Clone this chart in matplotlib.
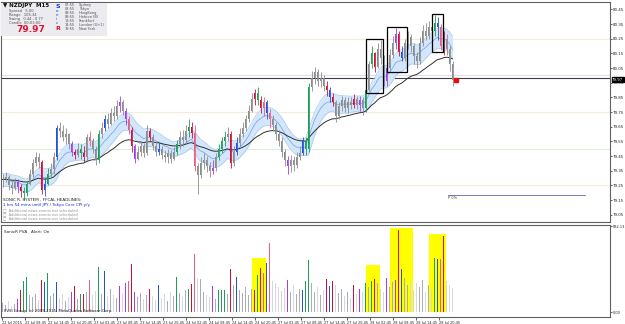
import numpy as np
import pandas as pd
import matplotlib
matplotlib.use("Agg")
import matplotlib.pyplot as plt
from matplotlib.patches import Rectangle
import matplotlib.transforms as mtrans

# ---------------- data ----------------
close = [79.29, 79.31, 79.25, 79.23, 79.27, 79.24, 79.21, 79.20, 79.26, 79.33,
         79.40, 79.44, 79.41, 79.22, 79.26, 79.33, 79.36, 79.44, 79.64, 79.62,
         79.58, 79.60, 79.53, 79.48, 79.46, 79.50, 79.47, 79.44, 79.58, 79.55,
         79.50, 79.42, 79.60, 79.64, 79.70, 79.67, 79.74, 79.72, 79.79, 79.82,
         79.76, 79.70, 79.63, 79.52, 79.43, 79.48, 79.52, 79.47, 79.62, 79.58,
         79.52, 79.48, 79.50, 79.46, 79.44, 79.47, 79.43, 79.48, 79.53, 79.58,
         79.56, 79.62, 79.65, 79.61, 79.38, 79.32, 79.40, 79.42, 79.38, 79.35,
         79.37, 79.44, 79.50, 79.55, 79.58, 79.60, 79.40, 79.48, 79.54, 79.60,
         79.64, 79.70, 79.76, 79.84, 79.88, 79.83, 79.78, 79.82, 79.74, 79.70,
         79.66, 79.60, 79.55, 79.48, 79.42, 79.38, 79.42, 79.39, 79.44, 79.47,
         79.55, 79.50, 79.92, 79.98, 80.02, 79.96, 79.98, 79.93, 79.90, 79.85,
         79.82, 79.72, 79.79, 79.83, 79.78, 79.82, 79.80, 79.84, 79.80, 79.83,
         79.78, 79.90, 80.08, 80.15, 80.06, 80.18, 80.12, 79.96, 80.05, 80.14,
         80.22, 80.28, 80.16, 80.12, 80.22, 80.26, 80.20, 80.13, 80.10, 80.22,
         80.30, 80.27, 80.33, 80.30, 80.36, 80.33, 80.20, 80.25, 80.18, 80.08,
         79.97]
high = [79.33, 79.34, 79.32, 79.28, 79.30, 79.29, 79.26, 79.24, 79.28, 79.36,
        79.43, 79.48, 79.47, 79.42, 79.30, 79.37, 79.40, 79.48, 79.66, 79.68,
        79.66, 79.64, 79.61, 79.55, 79.50, 79.54, 79.53, 79.52, 79.60, 79.62,
        79.57, 79.52, 79.63, 79.68, 79.73, 79.74, 79.78, 79.79, 79.83, 79.86,
        79.83, 79.78, 79.72, 79.65, 79.53, 79.52, 79.55, 79.54, 79.66, 79.64,
        79.60, 79.55, 79.54, 79.52, 79.49, 79.50, 79.49, 79.51, 79.56, 79.62,
        79.63, 79.66, 79.70, 79.68, 79.66, 79.40, 79.44, 79.47, 79.45, 79.41,
        79.42, 79.47, 79.53, 79.58, 79.62, 79.65, 79.62, 79.52, 79.58, 79.64,
        79.68, 79.73, 79.80, 79.88, 79.91, 79.92, 79.86, 79.85, 79.83, 79.77,
        79.73, 79.68, 79.63, 79.58, 79.50, 79.45, 79.46, 79.45, 79.48, 79.52,
        79.58, 79.58, 79.95, 80.03, 80.06, 80.04, 80.02, 80.00, 79.96, 79.92,
        79.88, 79.83, 79.82, 79.86, 79.85, 79.85, 79.85, 79.87, 79.86, 79.86,
        79.85, 79.93, 80.10, 80.20, 80.16, 80.22, 80.24, 80.14, 80.08, 80.18,
        80.27, 80.32, 80.30, 80.20, 80.25, 80.30, 80.28, 80.22, 80.16, 80.26,
        80.34, 80.36, 80.37, 80.38, 80.41, 80.40, 80.35, 80.30, 80.28, 80.20,
        80.10]
low = [79.24, 79.27, 79.22, 79.19, 79.22, 79.20, 79.17, 79.15, 79.18, 79.25,
       79.31, 79.38, 79.37, 79.19, 79.18, 79.25, 79.30, 79.33, 79.42, 79.58,
       79.55, 79.53, 79.50, 79.45, 79.43, 79.44, 79.43, 79.41, 79.42, 79.52,
       79.47, 79.39, 79.40, 79.57, 79.62, 79.64, 79.66, 79.69, 79.70, 79.75,
       79.73, 79.66, 79.60, 79.48, 79.40, 79.42, 79.45, 79.44, 79.46, 79.55,
       79.49, 79.45, 79.46, 79.43, 79.41, 79.40, 79.40, 79.42, 79.46, 79.50,
       79.52, 79.53, 79.58, 79.57, 79.35, 79.19, 79.30, 79.36, 79.34, 79.31,
       79.33, 79.35, 79.42, 79.47, 79.52, 79.55, 79.37, 79.38, 79.46, 79.52,
       79.58, 79.62, 79.68, 79.75, 79.80, 79.80, 79.74, 79.72, 79.70, 79.64,
       79.62, 79.56, 79.52, 79.44, 79.38, 79.33, 79.34, 79.35, 79.37, 79.42,
       79.46, 79.46, 79.48, 79.89, 79.94, 79.93, 79.92, 79.89, 79.86, 79.82,
       79.79, 79.68, 79.70, 79.76, 79.75, 79.74, 79.77, 79.78, 79.77, 79.76,
       79.73, 79.75, 79.89, 80.05, 80.02, 80.05, 80.08, 79.93, 79.93, 80.03,
       80.12, 80.18, 80.13, 80.10, 80.10, 80.18, 80.16, 80.08, 80.05, 80.08,
       80.20, 80.24, 80.25, 80.26, 80.27, 80.24, 80.17, 80.14, 80.14, 80.03,
       79.93]
volume = [90, 70, 110, 60, 85, 130, 214, 305, 345, 170,
          150, 180, 120, 314, 298, 383, 160, 190, 289, 140,
          180, 110, 150, 195, 257, 130, 182, 182, 200, 314,
          170, 210, 440, 180, 402, 160, 230, 170, 140, 251,
          190, 283, 305, 471, 200, 150, 190, 130, 170, 226,
          160, 120, 267, 140, 180, 110, 200, 160, 339, 190,
          150, 220, 226, 273, 565, 330, 320, 200, 170, 150,
          251, 130, 214, 214, 214, 180, 415, 260, 345, 220,
          190, 250, 170, 230, 220, 361, 430, 383, 477, 675,
          300, 280, 250, 210, 240, 314, 200, 260, 180, 230,
          220, 308, 502, 280, 200, 250, 170, 220, 320, 251,
          305, 260, 190, 230, 160, 200, 140, 267, 180, 226,
          200, 283, 250, 308, 320, 280, 230, 200, 336, 250,
          290, 314, 800, 415, 330, 260, 300, 220, 280, 250,
          310, 200, 260, 230, 528, 520, 518, 738, 300, 260,
          240]
# PVSI bar classes (g=green, r=red, p=pink, b=blue, m=purple); others gray
bar_class = {5: 'm', 6: 'r', 7: 'g', 8: 'g', 13: 'r', 14: 'b', 15: 'g', 18: 'b',
             23: 'm', 24: 'r', 26: 'g', 27: 'r', 29: 'p', 32: 'g', 34: 'b', 39: 'm',
             41: 'm', 42: 'p', 43: 'r', 44: 'm', 49: 'r', 52: 'b', 58: 'g', 62: 'g',
             63: 'r', 64: 'p', 70: 'm', 72: 'g', 73: 'g', 74: 'g', 76: 'r', 78: 'b',
             84: 'r', 85: 'g', 86: 'r', 87: 'p', 88: 'b', 89: 'p', 95: 'm', 100: 'b',
             101: 'g', 102: 'g', 108: 'r', 109: 'b', 110: 'r', 117: 'r', 119: 'm',
             121: 'g', 123: 'g', 124: 'r', 128: 'm', 131: 'm', 132: 'r', 133: 'b',
             144: 'g', 145: 'b', 146: 'p', 147: 'r'}
x_labels = ["22 Jul 2015", "22 Jul 08:45", "22 Jul 14:45", "22 Jul 20:45",
            "23 Jul 02:45", "23 Jul 08:45", "23 Jul 14:45", "23 Jul 20:45",
            "24 Jul 02:45", "24 Jul 08:45", "24 Jul 14:45", "24 Jul 20:45",
            "27 Jul 02:45", "27 Jul 08:45", "27 Jul 14:45", "27 Jul 20:45",
            "28 Jul 02:45", "28 Jul 08:45", "28 Jul 14:45", "28 Jul 20:45"]
price_ticks = [80.45, 80.35, 80.25, 80.15, 80.05, 79.95, 79.85, 79.75,
               79.65, 79.55, 79.45, 79.35, 79.25, 79.15, 79.05]
level_lines = [80.25, 80.00, 79.75, 79.50, 79.25]
level_colors = ['#f3ecd8', '#dcdcf2', '#f3ecd8', '#d8f2d8', '#f3ecd8']
hline_price = 79.98
box_ranges = [(122, 126), (129, 134), (144, 146)]
vol_highlights = [(84, 87, 524), (122, 125, 455), (130, 136, 816), (143, 147, 760)]
last_price = 79.97
vol_scale = ["832.13", "0.00"]
sessions = [("07:55", "Sydney"), ("08:55", "Tokyo"), ("09:55", "HongKong"),
            ("09:55", "Hebron (B)"), ("13:55", "Frankfurt"), ("14:55", "London (G+1)"),
            ("19:55", "New York")]
news = ["1 hrs 54 mins until JPY / Tokyo Core CPI y/y"]
# ---------------------------------------

W, H = 625, 324
fig = plt.figure(figsize=(W / 100, H / 100), dpi=100)
fig.patch.set_facecolor('white')

def frac(x0, y0, x1, y1):
    return [x0 / W, 1 - y1 / H, (x1 - x0) / W, (y1 - y0) / H]

XR = 610
ax = fig.add_axes(frac(1, 2, XR, 222))
ax2 = fig.add_axes(frac(1, 225, XR, 317))

n = len(close)
x = np.arange(n)
c = np.array(close)
o = np.r_[c[0], c[:-1]]
h = np.maximum(np.array(high), np.maximum(o, c))
l = np.minimum(np.array(low), np.minimum(o, c))

cls_color = {'g': '#1e9e55', 'r': '#d0103a', 'p': '#e8607c', 'b': '#2650d8', 'm': '#a23ef0'}
cand_col = [cls_color.get(bar_class.get(i, 'n'), '#8c8c8c') for i in range(n)]

xmin = -0.5
xmax = xmin + (XR - 1) / 3
for a in (ax, ax2):
    a.set_xlim(xmin, xmax)
ax.set_ylim(79.0, 80.5)

# level lines
for lv, lc in zip(level_lines, level_colors):
    ax.axhline(lv, color=lc, lw=0.8, zorder=1)
ax.axhline(hline_price, color='#404040', lw=0.8, zorder=2)

# Sonic R dragon band + trend EMA
s = pd.Series(c)
dr_hi = pd.Series(h).ewm(span=12, adjust=False).mean()
dr_lo = pd.Series(l).ewm(span=12, adjust=False).mean()
dr_mid = s.ewm(span=12, adjust=False).mean()
trend = s.ewm(span=34, adjust=False).mean()
ax.fill_between(x, dr_lo, dr_hi, color='#d4e6fb', lw=0, zorder=2)
ax.plot(x, dr_hi, color='#a6c9f0', lw=0.5, zorder=3)
ax.plot(x, dr_lo, color='#a6c9f0', lw=0.5, zorder=3)
ax.plot(x, dr_mid, color='#6aa2e8', lw=0.5, zorder=3)
ax.plot(x, trend, color='#303030', lw=0.7, zorder=4)

# candles
ax.vlines(x, l, h, colors=cand_col, lw=0.6, zorder=5)
body_b = np.minimum(o, c)
body_h = np.maximum(np.abs(c - o), 0.004)
ax.bar(x, body_h, bottom=body_b, width=0.55, color=cand_col, lw=0, zorder=6)

# boxes
for s0, s1 in box_ranges:
    lo_ = l[s0:s1 + 1].min()
    hi_ = h[s0:s1 + 1].max()
    ax.add_patch(Rectangle((s0 - 0.7, lo_ - 0.01), s1 - s0 + 1.4, hi_ - lo_ + 0.02,
                           fill=False, ec='black', lw=0.9, zorder=7))

# last price marker
ax.plot([n + 0.3], [last_price], 's', color='#e01010', ms=2.2, zorder=8)

# fibo-like line bottom right
ax.plot([n - 2.5, 194], [79.185, 79.185], color='#6060b0', lw=0.6, zorder=3)
ax.text(n - 2.5, 79.165, "P 0%", fontsize=2.6, color='#404040', va='center', ha='left')

# axes formatting main
ax.yaxis.tick_right()
ax.set_yticks(price_ticks)
ax.set_yticklabels([f"{v:.2f}" for v in price_ticks], fontsize=2.9)
ax.tick_params(axis='y', length=1.5, width=0.5, pad=0.5, colors='#222222')
ax.set_xticks([])
for sp in ax.spines.values():
    sp.set_color('#606060')
    sp.set_linewidth(0.8)

tr = mtrans.blended_transform_factory(ax.transAxes, ax.transData)
ax.text(1.0035, last_price, f"{last_price:.2f}", transform=tr, fontsize=2.8, color='white',
        va='center', ha='left',
        bbox=dict(boxstyle='square,pad=0.12', fc='black', ec='black'))

# volume panel
vol = np.array(volume)
vcol = []
for i in range(n):
    k = bar_class.get(i, 'n')
    if k == 'n':
        vcol.append('#a9aeb6' if c[i] >= o[i] else '#d4d7db')
    else:
        vcol.append(cls_color[k])
for s0, s1, top in vol_highlights:
    ax2.add_patch(Rectangle((s0 - 0.8, 0), s1 - s0 + 1.6, top, color='#ffff00', lw=0, zorder=1))
ax2.bar(x, vol, width=0.6, color=vcol, lw=0, zorder=3)
ax2.set_ylim(-45, 845)
ax2.yaxis.tick_right()
ax2.set_yticks([832.13, 0])
ax2.set_yticklabels(vol_scale, fontsize=2.5)
ax2.tick_params(axis='y', length=1.5, width=0.5, pad=0.5, colors='#222222')
step = 23 / 3
ax2.set_xticks(np.arange(len(x_labels)) * step + xmin + 0.3)
ax2.set_xticklabels(x_labels, fontsize=2.5, ha='left')
ax2.tick_params(axis='x', length=2, width=0.5, pad=0.8, colors='#222222')
for sp in ax2.spines.values():
    sp.set_color('#606060')
    sp.set_linewidth(0.8)

ax2.text(0.005, 0.95, "SonicR PVA   Alert: On", transform=ax2.transAxes, fontsize=3.0,
         va='top', ha='left', color='#202020')
ax2.text(0.005, 0.04, "PVSI Group, (c) 2005-2015, MetaQuotes Software Corp.",
         transform=ax2.transAxes, fontsize=2.8, va='bottom', ha='left', color='#202020')

# ---------- overlay texts (figure pixel coords) ----------
def T(px, py, s, **kw):
    kw.setdefault('va', 'center')
    kw.setdefault('ha', 'left')
    fig.text(px / W, 1 - py / H, s, **kw)

fig.patches.append(Rectangle((1 / W, 1 - 36 / H), 106 / W, 33 / H, transform=fig.transFigure,
                             fc='#ebebf0', ec='none', zorder=0))
T(3, 6, "▼ NZDJPY  M15", fontsize=4.0, fontweight='bold', color='#101010')
info = ["Spread   5.00", "Range   105.34", "Swing   0.44 - 0.77", "Candle  00:03:00"]
for k, t in enumerate(info):
    T(9, 11 + k * 4, t, fontsize=2.6, color='#505050')
T(16, 29, f"{last_price:.2f}", fontsize=6.5, fontweight='bold', color='#e01030')
T(55, 6, "S", fontsize=4.5, fontweight='bold', color='#1a3ad0')
for k, ch in enumerate("onic"):
    T(56, 11 + k * 4, ch, fontsize=2.8, color='#1a3ad0')
T(55, 29, "R", fontsize=4.5, fontweight='bold', color='#e01030')
for k, (tm, city) in enumerate(sessions):
    T(65, 5 + k * 4, tm, fontsize=2.5, color='#505050')
    T(79, 5 + k * 4, city, fontsize=2.5, color='#505050')

T(3, 200, "SONIC R. SYSTEM - FFCAL HEADLINES:", fontsize=3.0, color='#202020')
T(3, 205, news[0], fontsize=3.0, color='#1030d0')
for k in range(3):
    T(3, 210 + k * 4.3, "\u25a1  Additional news events not scheduled", fontsize=2.6, color='#909090')

fig.savefig("out.png", dpi=100, facecolor='white')
